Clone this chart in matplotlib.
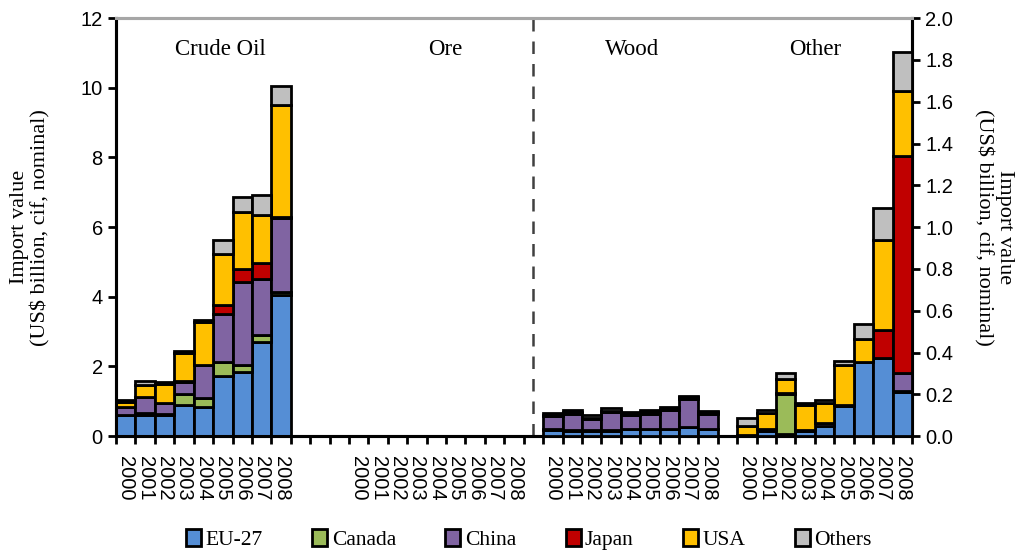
import matplotlib.pyplot as plt
import numpy as np

years = ["2000", "2001", "2002", "2003", "2004", "2005", "2006", "2007", "2008"]
series = ["EU-27", "Canada", "China", "Japan", "USA", "Others"]
colors = ["#558ED5", "#9BBB59", "#8064A2", "#C00000", "#FFC000", "#BFBFBF"]
group_names = ["Crude Oil", "Ore", "Wood", "Other"]

# crude oil, US$ billion (left axis)
crude_eu27 = [0.60, 0.62, 0.60, 0.88, 0.85, 1.72, 1.83, 2.71, 4.05]
crude_canada = [0.02, 0.05, 0.03, 0.32, 0.25, 0.41, 0.21, 0.19, 0.10]
crude_china = [0.22, 0.45, 0.33, 0.35, 0.93, 1.39, 2.39, 1.60, 2.10]
crude_japan = [0.00, 0.00, 0.00, 0.02, 0.02, 0.24, 0.38, 0.46, 0.05]
crude_usa = [0.15, 0.35, 0.55, 0.83, 1.23, 1.46, 1.63, 1.39, 3.20]
crude_others = [0.06, 0.10, 0.04, 0.05, 0.05, 0.41, 0.43, 0.57, 0.55]

# ore, US$ billion (left axis)
ore_eu27 = [0, 0, 0, 0, 0, 0, 0, 0, 0]
ore_canada = [0, 0, 0, 0, 0, 0, 0, 0, 0]
ore_china = [0, 0, 0, 0, 0, 0, 0, 0, 0]
ore_japan = [0, 0, 0, 0, 0, 0, 0, 0, 0]
ore_usa = [0, 0, 0, 0, 0, 0, 0, 0, 0]
ore_others = [0, 0, 0, 0, 0, 0, 0, 0, 0]

# wood, US$ billion (right axis)
wood_eu27 = [0.030, 0.025, 0.025, 0.025, 0.033, 0.032, 0.032, 0.042, 0.032]
wood_canada = [0.003, 0.003, 0.003, 0.003, 0.003, 0.003, 0.003, 0.003, 0.003]
wood_china = [0.062, 0.080, 0.052, 0.086, 0.063, 0.073, 0.089, 0.134, 0.072]
wood_japan = [0.003, 0.003, 0.003, 0.003, 0.003, 0.003, 0.003, 0.003, 0.003]
wood_usa = [0.005, 0.005, 0.005, 0.005, 0.005, 0.005, 0.005, 0.004, 0.005]
wood_others = [0.007, 0.008, 0.011, 0.012, 0.009, 0.008, 0.008, 0.005, 0.006]

# other, US$ billion (right axis)
other_eu27 = [0.005, 0.025, 0.010, 0.025, 0.050, 0.145, 0.355, 0.375, 0.210]
other_canada = [0.000, 0.005, 0.190, 0.005, 0.000, 0.000, 0.000, 0.000, 0.005]
other_china = [0.000, 0.005, 0.005, 0.000, 0.015, 0.005, 0.000, 0.000, 0.085]
other_japan = [0.000, 0.000, 0.000, 0.000, 0.000, 0.000, 0.000, 0.135, 1.040]
other_usa = [0.045, 0.075, 0.070, 0.120, 0.095, 0.190, 0.110, 0.430, 0.310]
other_others = [0.035, 0.015, 0.025, 0.010, 0.015, 0.020, 0.070, 0.150, 0.190]

crude = [crude_eu27, crude_canada, crude_china, crude_japan, crude_usa, crude_others]
ore = [ore_eu27, ore_canada, ore_china, ore_japan, ore_usa, ore_others]
wood = [wood_eu27, wood_canada, wood_china, wood_japan, wood_usa, wood_others]
other = [other_eu27, other_canada, other_china, other_japan, other_usa, other_others]

# slot where each group starts (blank slots between groups)
group_start = [0, 12, 22, 32]
n_slots = 41
sans = ["Liberation Sans", "DejaVu Sans"]
serif = ["Liberation Serif", "DejaVu Serif"]

fig = plt.figure(figsize=(10.27, 5.5), dpi=100)
ax = fig.add_axes([0.113, 0.207, 0.775, 0.76])
ax2 = ax.twinx()


def stacked(axis, start, data, with_label=False):
    x = np.arange(start, start + len(years))
    bottom = np.zeros(len(years))
    for vals, col, name in zip(data, colors, series):
        v = np.asarray(vals, dtype=float)
        axis.bar(x, v, bottom=bottom, width=1.0, color=col, edgecolor="black",
                 linewidth=2.0, label=name if with_label else None, zorder=3)
        bottom += v


stacked(ax, group_start[0], crude, with_label=True)
stacked(ax, group_start[1], ore)
stacked(ax2, group_start[2], wood)
stacked(ax2, group_start[3], other)

ax.set_xlim(-0.5, n_slots - 0.5)
ax.set_ylim(0, 12)
ax2.set_ylim(0, 2.0)
ax.set_yticks(np.arange(0, 13, 2))
ax2.set_yticks(np.arange(0, 2.01, 0.2))
ax2.set_yticklabels([f"{v:.1f}" for v in np.arange(0, 2.01, 0.2)])

# year labels under each bar slot, tick marks at slot boundaries
pos, labs = [], []
for s in group_start:
    pos += list(range(s, s + len(years)))
    labs += years
ax.set_xticks(pos)
ax.set_xticklabels(labs, rotation=-90, fontsize=14.5, family=sans)
ax.set_xticks(np.arange(-0.5, n_slots, 1.0), minor=True)
ax.tick_params(axis="x", which="major", length=0, pad=14)
ax.tick_params(axis="x", which="minor", length=6, width=2, direction="out")
ax.tick_params(axis="y", length=6, width=2, labelsize=14.5)
ax2.tick_params(axis="y", length=6, width=2, labelsize=14.5)
for lab in ax.get_yticklabels() + ax2.get_yticklabels():
    lab.set_family(sans)

for a in (ax, ax2):
    for side in ("left", "right", "bottom"):
        a.spines[side].set_linewidth(2.2)
        a.spines[side].set_color("black")
    a.spines["top"].set_color("#A6A6A6")
    a.spines["top"].set_linewidth(2.2)

ax.axvline(21, color="#404040", linestyle=(0, (5, 4)), linewidth=1.8, zorder=2)

label_x = [4.86, 16.45, 26.1, 35.5]
for name, lx in zip(group_names, label_x):
    ax.text(lx, 11.1, name, ha="center", va="center", fontsize=16.5, family=serif)

ax.set_ylabel("Import value\n(US$ billion, cif, nominal)", fontsize=16,
              family=serif, labelpad=22, linespacing=1.1)
ax2.set_ylabel("Import value\n(US$ billion, cif, nominal)", fontsize=16,
               family=serif, rotation=-90, labelpad=44, linespacing=1.1)

handles, names = ax.get_legend_handles_labels()
fig.legend(handles, names, loc="lower center", bbox_to_anchor=(0.515, -0.035),
           ncol=6, frameon=False, prop={"family": serif, "size": 15.5},
           handlelength=0.7, handleheight=0.9, handletextpad=0.2,
           columnspacing=2.3)

fig.savefig("out.png", dpi=100)
